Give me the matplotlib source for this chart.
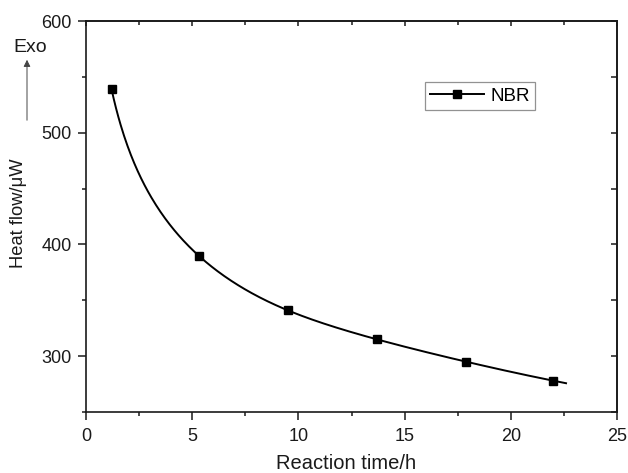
import numpy as np
import matplotlib
matplotlib.use("Agg")
import matplotlib.pyplot as plt
from matplotlib.ticker import MultipleLocator

plt.rcParams['font.family'] = ['Liberation Sans', 'DejaVu Sans']

time_h = [1.2, 5.3, 9.5, 13.7, 17.9, 22.0]
heat_flow = [539, 390, 341, 315, 295, 278]
series_name = "NBR"
curve_end = 22.6

def smooth_curve(xs, ys, x_end, n=400):
    # natural cubic spline in ln(x), extended a little past the last point
    us = np.log(np.asarray(xs, float)); ys = np.asarray(ys, float)
    k = len(us)
    h = np.diff(us)
    A = np.zeros((k, k)); b = np.zeros(k)
    A[0, 0] = A[-1, -1] = 1
    for i in range(1, k - 1):
        A[i, i - 1] = h[i - 1]; A[i, i] = 2 * (h[i - 1] + h[i]); A[i, i + 1] = h[i]
        b[i] = 3 * ((ys[i + 1] - ys[i]) / h[i] - (ys[i] - ys[i - 1]) / h[i - 1])
    c = np.linalg.solve(A, b)
    bb = np.zeros(k - 1); d = np.zeros(k - 1)
    for i in range(k - 1):
        bb[i] = (ys[i + 1] - ys[i]) / h[i] - h[i] * (2 * c[i] + c[i + 1]) / 3
        d[i] = (c[i + 1] - c[i]) / (3 * h[i])
    xx = np.linspace(xs[0], x_end, n)
    uu = np.log(xx)
    yy = np.empty_like(xx)
    for j, u in enumerate(uu):
        i = min(max(np.searchsorted(us, u) - 1, 0), k - 2)
        if u > us[-1]:
            slope = bb[-1] + 2 * c[-2] * h[-1] + 3 * d[-1] * h[-1] ** 2
            yy[j] = ys[-1] + slope * (u - us[-1])
        else:
            du = u - us[i]
            yy[j] = ys[i] + bb[i] * du + c[i] * du ** 2 + d[i] * du ** 3
    return xx, yy

ink = '#1a1a1a'
fig = plt.figure(figsize=(6.28, 4.73), dpi=100)
ax = fig.add_axes([0.137, 0.129, 0.9825 - 0.137, 0.9556 - 0.129])

xx, yy = smooth_curve(time_h, heat_flow, curve_end)
ax.plot(xx, yy, color='black', lw=1.4)
ax.plot(time_h, heat_flow, ls='none', marker='s', ms=6, color='black')
ax.plot([], [], color='black', lw=1.4, marker='s', ms=5.5, label=series_name)

ax.set_xlim(0, 25)
ax.set_ylim(250, 600)
ax.xaxis.set_major_locator(MultipleLocator(5))
ax.xaxis.set_minor_locator(MultipleLocator(2.5))
ax.yaxis.set_major_locator(MultipleLocator(100))
ax.yaxis.set_minor_locator(MultipleLocator(50))
ax.tick_params(which='major', direction='out', length=5.5, width=1.1, labelsize=13, colors=ink)
ax.tick_params(axis='x', which='major', pad=6)
ax.tick_params(axis='y', which='major', pad=5)
ax.tick_params(which='minor', direction='out', length=3, width=1.1, colors=ink)
for s in ax.spines.values():
    s.set_linewidth(1.2); s.set_color(ink)

secx = ax.secondary_xaxis('top')
secx.xaxis.set_major_locator(MultipleLocator(5))
secx.xaxis.set_minor_locator(MultipleLocator(2.5))
secx.tick_params(which='major', direction='in', length=3.5, width=1.1, labeltop=False, colors=ink)
secx.tick_params(which='minor', direction='in', length=3, width=1.1, colors=ink)
secy = ax.secondary_yaxis('right')
secy.yaxis.set_major_locator(MultipleLocator(100))
secy.yaxis.set_minor_locator(MultipleLocator(50))
secy.tick_params(which='major', direction='in', length=4.5, width=1.1, labelright=False, colors=ink)
secy.tick_params(which='minor', direction='in', length=4.5, width=1.1, colors=ink)
for sa in (secx, secy):
    for s in sa.spines.values():
        s.set_linewidth(1.2); s.set_color(ink)

ax.set_xlabel('Reaction time/h', fontsize=14.5, color=ink)
ax.xaxis.set_label_coords(0.49, -0.133)
ax.xaxis.label.set_va('center')
ax.set_ylabel('Heat flow/\u03bcW', fontsize=13.2, color=ink)
ax.yaxis.set_label_coords(-0.127, 0.508)
ax.yaxis.label.set_va('center')

leg = ax.legend(loc='upper left', bbox_to_anchor=(0.638, 0.843), borderaxespad=0,
                fontsize=13.5, frameon=True, fancybox=False, handlelength=2.9,
                borderpad=0.28, handletextpad=0.3)
leg.get_frame().set_edgecolor('#777777')
leg.get_frame().set_linewidth(0.9)

fig.text(13 / 628, 1 - 48 / 473, 'Exo', fontsize=14, color=ink, va='center', ha='left')
fig.add_artist(matplotlib.patches.FancyArrowPatch(
    (27 / 628, 1 - 123 / 473), (27 / 628, 1 - 57 / 473), transform=fig.transFigure,
    arrowstyle='-|>', mutation_scale=10, color='#444444', lw=0.7))

fig.savefig('out.png', dpi=100)
